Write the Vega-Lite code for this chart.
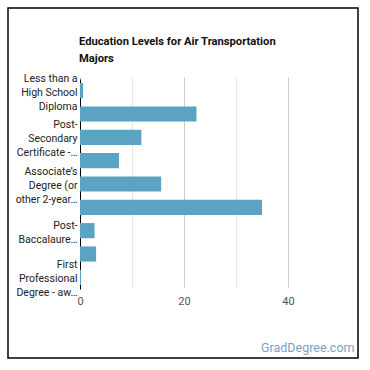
{
  "$schema": "https://vega.github.io/schema/vega-lite/v6.json",
  "autosize": "none",
  "padding": {"left": 8, "top": 8, "right": 12, "bottom": 12},
  "width": 350,
  "height": 350,
  "background": "white",
  "title": {
    "text": ["Education Levels for Air Transportation", "Majors"],
    "anchor": "start",
    "frame": "group",
    "dx": 71,
    "offset": -67,
    "baseline": "bottom",
    "font": "Roboto",
    "fontSize": 11.2,
    "fontWeight": "bold",
    "color": "#111111",
    "lineHeight": 17
  },
  "data": {
    "values": [
      {"level": "Less than a High School Diploma", "pct": 0.6},
      {"level": "High School Diploma", "pct": 22.4},
      {"level": "Post-Secondary Certificate - awarded for training completed after high school", "pct": 11.8},
      {"level": "Some College Courses", "pct": 7.5},
      {"level": "Associate's Degree (or other 2-year degree)", "pct": 15.6},
      {"level": "Bachelor's Degree", "pct": 35.0},
      {"level": "Post-Baccalaureate Certificate", "pct": 2.8},
      {"level": "Master's Degree", "pct": 3.1},
      {"level": "First Professional Degree - awarded for completion of a program", "pct": 0.2}
    ]
  },
  "mark": {"type": "bar", "color": "#5ba3c3"},
  "encoding": {
    "y": {
      "field": "level",
      "type": "nominal",
      "sort": null,
      "scale": {"range": [71, 281], "paddingInner": 0.35, "paddingOuter": 0.175},
      "axis": {
        "title": null,
        "orient": "left",
        "offset": -72,
        "ticks": false,
        "domainColor": "#000000",
        "domainWidth": 1,
        "labelFont": "Roboto",
        "labelFontSize": 10.5,
        "labelColor": "#222222",
        "labelPadding": 3,
        "labelLineHeight": 14,
        "labelLimit": 90,
        "labelOverlap": "parity",
        "labelOffset": {"condition": {"test": "indexof(datum.value,'High')==0 || indexof(datum.value,'Some')==0 || indexof(datum.value,'Bach')==0 || indexof(datum.value,'Post-Bacc')==0 || indexof(datum.value,'Master')==0", "value": -5}, "value": -12},
        "labelExpr": "indexof(datum.value,'Less')==0 ? ['Less than a','High School','Diploma'] : indexof(datum.value,'High')==0 ? ['High School','Diploma'] : indexof(datum.value,'Post-Sec')==0 ? ['Post-','Secondary','Certificate -…'] : indexof(datum.value,'Some')==0 ? ['Some College','Courses'] : indexof(datum.value,'Assoc')==0 ? ['Associate\\u2019s','Degree (or','other 2-year…'] : indexof(datum.value,'Bach')==0 ? ['Bachelor\\u2019s','Degree'] : indexof(datum.value,'Post-Bacc')==0 ? ['Post-','Baccalaure…'] : indexof(datum.value,'Master')==0 ? ['Master\\u2019s','Degree'] : ['First','Professional','Degree - aw…']"
      }
    },
    "x": {
      "field": "pct",
      "type": "quantitative",
      "scale": {"domain": [0, 50], "range": [72, 332], "nice": false, "zero": true},
      "axis": {
        "orient": "bottom",
        "offset": -69,
        "values": [0, 10, 20, 30, 40],
        "labelExpr": "datum.value % 20 == 0 ? datum.label : ''",
        "labelFlush": false,
        "domain": false,
        "ticks": false,
        "grid": true,
        "gridColor": {"condition": {"test": "datum.value % 20 == 0", "value": "#cccccc"}, "value": "#e6e6e6"},
        "labelFont": "Roboto",
        "labelFontSize": 11,
        "labelColor": "#555555",
        "labelPadding": 6,
        "title": "GradDegree.com",
        "titleFont": "Roboto",
        "titleFontSize": 12.5,
        "titleFontWeight": "normal",
        "titleColor": "#7aa2bf",
        "titleAlign": "right",
        "titleBaseline": "alphabetic",
        "titleAnchor": "end",
        "titleX": 346,
        "titleY": 62
      }
    }
  },
  "config": {
    "view": {"stroke": "#000000", "strokeWidth": 1.5, "fill": "white"}
  }
}
